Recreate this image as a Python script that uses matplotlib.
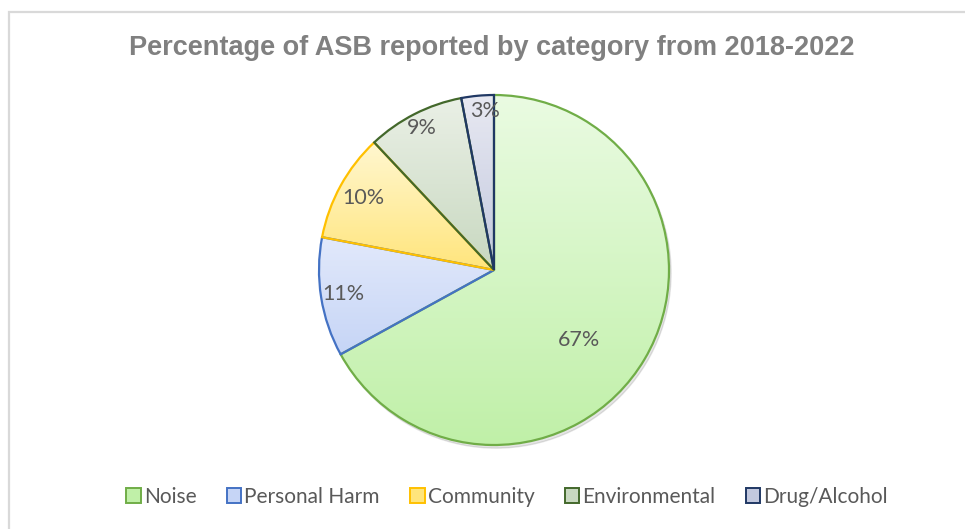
import numpy as np
import matplotlib
matplotlib.use("Agg")
import matplotlib.pyplot as plt
from matplotlib.colors import LinearSegmentedColormap
from matplotlib.patches import Rectangle

# --- data ---
categories = ["Noise", "Personal Harm", "Community", "Environmental", "Drug/Alcohol"]
shares = [67, 11, 10, 9, 3]

# --- styling ---
edge_colors = ["#70ad47", "#4472c4", "#ffc000", "#43682b", "#203864"]
top_colors = ["#eafbe2", "#e2e9fb", "#fff7d0", "#eaf0e6", "#e8e9f2"]
bottom_colors = ["#c0f0a8", "#c6d5f6", "#ffe57c", "#c8d8c0", "#c2c8de"]
label_dist = [0.63, 0.87, 0.85, 0.91, 0.91]
label_shift = [-9, 0, 0, 0, -2]   # degrees, Excel nudges some labels

W, H = 965, 529
fig = plt.figure(figsize=(W / 100, H / 100), dpi=100)
fig.patch.set_facecolor("white")

# chart border like the Excel chart area
fig.patches.append(Rectangle((9 / W, -0.1), 1.2, 1 - 12 / H + 0.1,
                             transform=fig.transFigure, fill=False,
                             edgecolor="#d9d9d9", linewidth=1.6))

cx, cy, r = 494, 270, 175
half = 200
ax = fig.add_axes([(cx - half) / W, (H - cy - half) / H, 2 * half / W, 2 * half / H])
lim = half / r
ax.set_xlim(-lim, lim)
ax.set_ylim(-lim, lim)
ax.set_aspect("equal")
ax.axis("off")

wedges, _ = ax.pie(shares, startangle=90, counterclock=False, radius=1,
                   colors=["none"] * len(shares),
                   wedgeprops=dict(linewidth=1.6))

# soft shadow under the pie
ax.add_patch(plt.Circle((0.012, -0.018), 1.0, color="#000000", alpha=0.10, zorder=0))
ax.add_patch(plt.Circle((0, 0), 1.0, color="white", zorder=0.5))

grad = np.linspace(0, 1, 256).reshape(-1, 1)
for w, ec, c0, c1 in zip(wedges, edge_colors, top_colors, bottom_colors):
    w.set_edgecolor(ec)
    w.set_zorder(3)
    bb = w.get_path().get_extents(w.get_patch_transform())
    cmap = LinearSegmentedColormap.from_list("g", [c0, c1])
    im = ax.imshow(grad, cmap=cmap, aspect="auto", origin="upper",
                   extent=[bb.x0, bb.x1, bb.y0, bb.y1], zorder=2)
    im.set_clip_path(w)

ax.set_xlim(-lim, lim)
ax.set_ylim(-lim, lim)

for w, v, d, s in zip(wedges, shares, label_dist, label_shift):
    mid = np.deg2rad((w.theta1 + w.theta2) / 2 + s)
    ax.text(d * np.cos(mid), d * np.sin(mid), f"{v}%", ha="center", va="center",
            fontsize=15.5, color="#595959", family="Lato", zorder=5)

fig.text(492 / W, 1 - 48 / H, "Percentage of ASB reported by category from 2018-2022",
         ha="center", va="center", fontsize=19.5, fontweight="bold",
         color="#808080", family="Liberation Sans")

handles = [Rectangle((0, 0), 1, 1, facecolor=c, edgecolor=e, linewidth=1.4)
           for c, e in zip(bottom_colors, edge_colors)]
leg = fig.legend(handles, categories, loc="center", bbox_to_anchor=(507 / W, 1 - 497 / H),
                 ncol=5, frameon=False, handlelength=0.7, handleheight=0.7,
                 handletextpad=0.15, columnspacing=1.45,
                 prop=dict(family="Lato", size=15))
for t in leg.get_texts():
    t.set_color("#595959")

fig.savefig("out.png", dpi=100, facecolor="white")
